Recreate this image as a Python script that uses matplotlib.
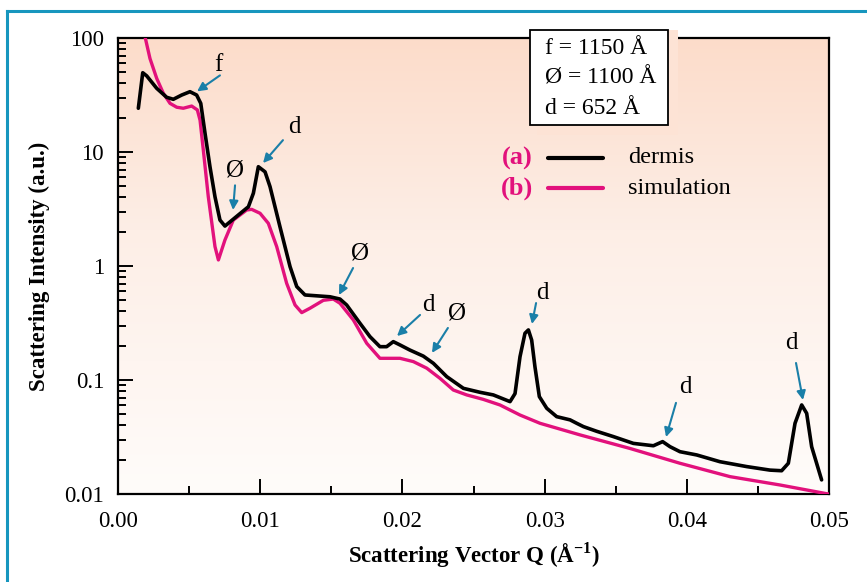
import numpy as np
import matplotlib
matplotlib.use("Agg")
import matplotlib.pyplot as plt
from matplotlib.patches import Rectangle
from matplotlib.lines import Line2D
from matplotlib.ticker import FixedLocator, FuncFormatter

# --- data ---
q_dermis = [0.00143, 0.00174, 0.00202, 0.00272, 0.00342, 0.00389, 0.00448, 0.00506,
            0.00553, 0.00582, 0.00612, 0.00647, 0.00682, 0.00717, 0.00752, 0.00846,
            0.00917, 0.00952, 0.00987, 0.01034, 0.01069, 0.01139, 0.01210, 0.01257,
            0.01315, 0.01491, 0.01561, 0.01608, 0.01702, 0.01772, 0.01842, 0.01889,
            0.01936, 0.01983, 0.02053, 0.02147, 0.02218, 0.02312, 0.02429, 0.02546,
            0.02639, 0.02757, 0.02792, 0.02827, 0.02862, 0.02886, 0.02909, 0.02932,
            0.02963, 0.03015, 0.03085, 0.03179, 0.03226, 0.03273, 0.03366, 0.03483,
            0.03624, 0.03765, 0.03830, 0.03882, 0.03952, 0.04070, 0.04233, 0.04421,
            0.04585, 0.04667, 0.04714, 0.04761, 0.04808, 0.04843, 0.04878, 0.04948]
i_dermis = [24.2, 49.6, 46.5, 36.2, 30.2, 29.0, 31.6, 33.8,
            31.6, 26.7, 14.6, 7.4, 4.05, 2.53, 2.24, 2.80,
            3.31, 4.35, 7.43, 6.7, 4.97, 2.21, 0.986, 0.66,
            0.557, 0.537, 0.513, 0.455, 0.314, 0.24, 0.196, 0.196,
            0.217, 0.203, 0.183, 0.162, 0.14, 0.107, 0.0845, 0.078,
            0.074, 0.0646, 0.076, 0.16, 0.257, 0.275, 0.224, 0.131,
            0.0715, 0.0565, 0.0477, 0.0447, 0.0417, 0.039, 0.0355, 0.0319,
            0.0278, 0.0265, 0.0288, 0.026, 0.0235, 0.022, 0.0192, 0.0174,
            0.0162, 0.016, 0.0186, 0.0417, 0.0604, 0.051, 0.026, 0.0133]

q_sim = [0.00192, 0.00225, 0.00272, 0.00319, 0.00366, 0.00413, 0.00459, 0.00518,
         0.00558, 0.00577, 0.00600, 0.00635, 0.00682, 0.00706, 0.00752, 0.00811,
         0.00905, 0.00940, 0.00999, 0.01057, 0.01116, 0.01186, 0.01245, 0.01292,
         0.01350, 0.01444, 0.01514, 0.01561, 0.01655, 0.01749, 0.01842, 0.01983,
         0.02077, 0.02171, 0.02264, 0.02358, 0.02452, 0.02569, 0.02686, 0.02827,
         0.02968, 0.03249, 0.03600, 0.03952, 0.04304, 0.04655, 0.04995]
i_sim = [100, 66, 44.3, 32.7, 26.7, 24.7, 24.2, 25.3,
         23.4, 19.0, 10.4, 4.05, 1.48, 1.13, 1.69, 2.53,
         3.1, 3.14, 2.9, 2.37, 1.48, 0.705, 0.455, 0.39,
         0.426, 0.50, 0.513, 0.471, 0.336, 0.21, 0.155, 0.155,
         0.145, 0.127, 0.1035, 0.0817, 0.074, 0.0676, 0.0604, 0.0493,
         0.0417, 0.033, 0.0251, 0.0186, 0.0142, 0.012, 0.0100]

# peak labels: (text, text pos, arrow tail, arrow head)
peak_labels = [
    ("f", (0.00703, 58), (0.00717, 47), (0.00556, 34)),
    ("d", (0.01238, 16.6), (0.0116, 12.7), (0.0102, 8.0)),
    ("Ø", (0.00823, 6.95), (0.00823, 5.1), (0.00809, 3.1)),
    ("Ø", (0.0170, 1.3), (0.01653, 0.96), (0.01554, 0.557)),
    ("d", (0.0218, 0.455), (0.02124, 0.372), (0.01962, 0.243)),
    ("Ø", (0.02384, 0.387), (0.0232, 0.286), (0.02208, 0.173)),
    ("d", (0.02982, 0.58), (0.0294, 0.473), (0.02911, 0.31)),
    ("d", (0.03987, 0.087), (0.03924, 0.063), (0.03854, 0.0316)),
    ("d", (0.04733, 0.211), (0.04768, 0.141), (0.04817, 0.0668)),
]

box_lines = ["f = 1150 Å", "Ø = 1100 Å", "d = 652 Å"]
y_ticks = [0.01, 0.1, 1, 10, 100]
y_ticklabels = ["0.01", "0.1", "1", "10", "100"]
x_ticks = [0.00, 0.01, 0.02, 0.03, 0.04, 0.05]

W, H = 867, 582
BLACK = "#000000"
PINK = "#e2117c"
ARROW = "#1a7fa8"
BORDER = "#1796be"

plt.rcParams['font.family'] = ['Liberation Serif', 'DejaVu Serif']
plt.rcParams['mathtext.fontset'] = 'custom'
plt.rcParams['mathtext.rm'] = 'Liberation Serif'
plt.rcParams['mathtext.bf'] = 'Liberation Serif:bold'


def px(x, y):
    return (x / W, 1 - y / H)


fig = plt.figure(figsize=(W / 100, H / 100), dpi=100)
fig.patch.set_facecolor("white")

# frame around the whole figure
fig.add_artist(Line2D([7 / W, 7 / W], [0, 1 - 11 / H], color=BORDER, lw=2.2))
fig.add_artist(Line2D([7 / W, 1], [1 - 11 / H, 1 - 11 / H], color=BORDER, lw=2.2))

ax = fig.add_axes([118 / W, 1 - 494 / H, 711 / W, 456 / H])

# peach gradient background
stops_t = [0.0, 0.42, 1.0]
top = np.array([252, 220, 202]) / 255
mid = np.array([253, 238, 230]) / 255
bot = np.array([255, 252, 250]) / 255
t = np.linspace(0, 1, 256)
grad = np.stack([np.interp(t, stops_t, [top[k], mid[k], bot[k]]) for k in range(3)], axis=1)
ax.imshow(grad[:, None, :], extent=[0, 1, 0, 1], transform=ax.transAxes,
          aspect='auto', zorder=0, interpolation='bilinear')

ax.plot(q_sim, i_sim, color=PINK, lw=2.4, solid_joinstyle='round', zorder=3)
ax.plot(q_dermis, i_dermis, color=BLACK, lw=2.6, solid_joinstyle='round',
        solid_capstyle='round', zorder=4)

ax.set_yscale('log')
ax.set_xlim(0, 0.05)
ax.set_ylim(0.01, 100)

for s in ax.spines.values():
    s.set_linewidth(1.6)
ax.tick_params(which='both', direction='in', top=False, right=False, width=1.4)
ax.tick_params(which='major', length=11, labelsize=16.5)
ax.tick_params(which='minor', length=6)
ax.tick_params(axis='x', pad=12)
ax.tick_params(axis='y', pad=10)
ax.yaxis.set_major_locator(FixedLocator(y_ticks))
ax.yaxis.set_major_formatter(FuncFormatter(lambda v, p: y_ticklabels[y_ticks.index(v)] if v in y_ticks else ""))
ax.xaxis.set_major_locator(FixedLocator(x_ticks))
ax.xaxis.set_minor_locator(FixedLocator([0.005, 0.015, 0.025, 0.035, 0.045]))
ax.xaxis.set_major_formatter(FuncFormatter(lambda v, p: "%.2f" % v))

ax.set_xlabel(r"Scattering Vector Q (Å$^{\mathbf{-1}}$)", fontsize=16.5, fontweight='bold', labelpad=6)
ax.set_ylabel("Scattering Intensity (a.u.)", fontsize=16.5, fontweight='bold', labelpad=10)

for lab, tpos, tail, head in peak_labels:
    ax.text(tpos[0], tpos[1], lab, fontsize=18, ha='center', va='center', zorder=6)
    ax.annotate("", xy=head, xytext=tail, zorder=6,
                arrowprops=dict(arrowstyle='-|>', color=ARROW, lw=1.5,
                                mutation_scale=13, shrinkA=0, shrinkB=0))

# parameter box with faint shadow covering the top spine
x0, y0 = px(537, 135)
x1, y1 = px(678, 30)
fig.add_artist(Rectangle((x0, y0), x1 - x0, y1 - y0, transform=fig.transFigure,
                         facecolor="#fde3d5", edgecolor='none', zorder=5))
x0, y0 = px(530, 125)
x1, y1 = px(668, 30)
fig.add_artist(Rectangle((x0, y0), x1 - x0, y1 - y0, transform=fig.transFigure,
                         facecolor="white", edgecolor=BLACK, lw=1.3, zorder=6))
for k, line in enumerate(box_lines):
    fig.text(*px(545, 49 + k * 29.5), line, fontsize=17, va='center', ha='left', zorder=7)

# legend
legend_rows = [("(a)", BLACK, "dermis", 158), ("(b)", PINK, "simulation", 188)]
for tag, col, name, yy in legend_rows:
    fig.text(*px(517, yy), tag, fontsize=19, fontweight='bold', color=PINK,
             ha='center', va='center', zorder=7)
    fig.add_artist(Line2D([548 / W, 603 / W], [1 - yy / H, 1 - yy / H], color=col,
                          lw=3, solid_capstyle='round', zorder=7))
    fig.text(*px(628, yy), name, fontsize=17.5, ha='left', va='center', zorder=7)

fig.savefig("out.png", dpi=100)
